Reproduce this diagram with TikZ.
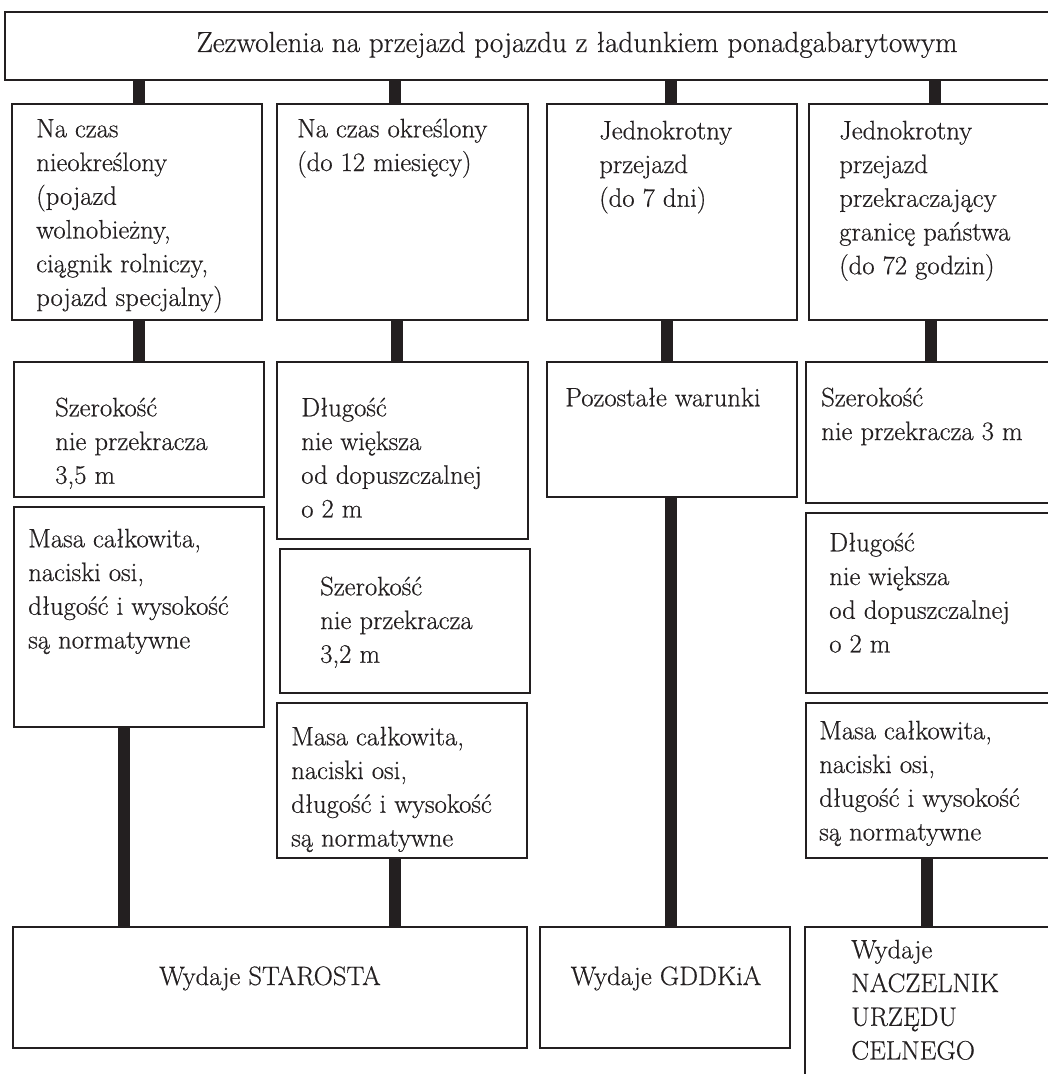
\documentclass[tikz,border=0pt]{standalone}
\usepackage{fontspec}
\setmainfont{Latin Modern Roman}[FakeBold=0.5]
\usetikzlibrary{fit}
\definecolor{ink}{HTML}{231F20}
\tikzset{
  box/.style={draw=ink, line width=1.3pt, fill=white, inner sep=0pt},
  bar/.style={draw=ink, line width=9.4pt},
  txt/.style={inner sep=0pt, align=left, anchor=north west, text=ink, font=\fontsize{20}{25.3}\selectfont},
  ctxt/.style={inner sep=0pt, anchor=base, text=ink, font=\fontsize{20}{25.3}\selectfont},
}
\begin{document}
\begin{tikzpicture}[x=0.75pt,y=-0.75pt]
\useasboundingbox (0,0) rectangle (1047,1074);
% boxes
\node[box, fit={(5,12) (1060,80)}] (top) {};
\node[box, fit={(12,104) (262,320)}] (A) {};
\node[box, fit={(277,104) (528,320)}] (B) {};
\node[box, fit={(547,104) (797,320)}] (C) {};
\node[box, fit={(809,104) (1060,320)}] (D) {};
\node[box, fit={(14,362) (264,497)}] (A3) {};
\node[box, fit={(277,362) (528,539)}] (B3) {};
\node[box, fit={(547,362) (797,497)}] (C3) {};
\node[box, fit={(806,362) (1060,503)}] (D3) {};
\node[box, fit={(14,507) (264,727)}] (A4) {};
\node[box, fit={(280,549) (530,693)}] (B4) {};
\node[box, fit={(806,513) (1060,693)}] (D4) {};
\node[box, fit={(277,703) (527,858)}] (B5) {};
\node[box, fit={(806,703) (1060,858)}] (D5) {};
\node[box, fit={(13,927) (527,1048)}] (S) {};
\node[box, fit={(540,927) (790,1048)}] (G) {};
\node[box, fit={(805,927) (1060,1090)}] (N) {};
% x positions of connectors
\coordinate (ca1) at (139,0);
\coordinate (cb1) at (395,0);
\coordinate (cc1) at (671,0);
\coordinate (cd1) at (935,0);
\coordinate (ca2) at (139,0);
\coordinate (cb2) at (397,0);
\coordinate (cc2) at (667,0);
\coordinate (cd2) at (931,0);
\coordinate (ca3) at (124,0);
\coordinate (cb3) at (395,0);
\coordinate (cc3) at (671,0);
\coordinate (cd3) at (927,0);
% connectors
\draw[bar] (top.south -| ca1) -- (A.north -| ca1);
\draw[bar] (top.south -| cb1) -- (B.north -| cb1);
\draw[bar] (top.south -| cc1) -- (C.north -| cc1);
\draw[bar] (top.south -| cd1) -- (D.north -| cd1);
\draw[bar] (A.south -| ca2) -- (A3.north -| ca2);
\draw[bar] (B.south -| cb2) -- (B3.north -| cb2);
\draw[bar] (C.south -| cc2) -- (C3.north -| cc2);
\draw[bar] (D.south -| cd2) -- (D3.north -| cd2);
\draw[bar] (A4.south -| ca3) -- (S.north -| ca3);
\draw[bar] (B5.south -| cb3) -- (S.north -| cb3);
\draw[bar] (C3.south -| cc3) -- (G.north -| cc3);
\draw[bar] (D5.south -| cd3) -- (N.north -| cd3);
% texts
\node[ctxt, font=\fontsize{21.8}{25.3}\selectfont] (ttop) at (577,52) {Zezwolenia na przejazd pojazdu z ładunkiem ponadgabarytowym};
\node[txt] (tA) at (36,113.4) {\strut Na czas\\nieokreślony\\(pojazd\\wolnobieżny,\\ciągnik rolniczy,\\pojazd specjalny)};
\node[txt] (tB) at (297,113.4) {\strut Na czas określony\\(do 12 miesięcy)};
\node[txt] (tC) at (599,115.4) {\strut Jednokrotny\\przejazd\\(do 7 dni)};
\node[txt] (tD) at (839,115.4) {\strut Jednokrotny\\przejazd\\przekraczający\\granicę państwa\\(do 72 godzin)};
\node[txt] (tA3) at (55,392.4) {\strut Szerokość\\nie przekracza\\3,5 m};
\node[txt] (tB3) at (301,392.4) {\strut Długość\\nie większa\\od dopuszczalnej\\o 2 m};
\node[txt] (tC3) at (565,382.4) {\strut Pozostałe warunki};
\node[txt] (tD3) at (821,382.4) {\strut Szerokość\\nie przekracza 3 m};
\node[txt] (tA4) at (28,523.4) {\strut Masa całkowita,\\naciski osi,\\długość i wysokość\\są normatywne};
\node[txt] (tB4) at (320,571.4) {\strut Szerokość\\nie przekracza\\3,2 m};
\node[txt] (tD4) at (829,527.4) {\strut Długość\\nie większa\\od dopuszczalnej\\o 2 m};
\node[txt] (tB5) at (291,721.4) {\strut Masa całkowita,\\naciski osi,\\długość i wysokość\\są normatywne};
\node[txt] (tD5) at (819,715.4) {\strut Masa całkowita,\\naciski osi,\\długość i wysokość\\są normatywne};
\node[ctxt] (tS) at (270,985) {Wydaje STAROSTA};
\node[ctxt] (tG) at (666,985) {Wydaje GDDKiA};
\node[txt] (tN) at (851,934.4) {\strut Wydaje\\NACZELNIK\\URZĘDU\\CELNEGO};
\end{tikzpicture}
\end{document}
